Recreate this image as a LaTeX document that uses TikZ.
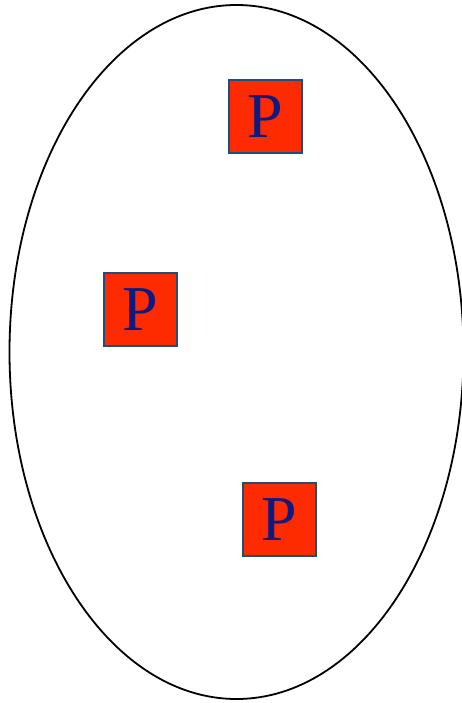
\documentclass[tikz,border=0pt]{standalone}
\usepackage{fontspec}
\usetikzlibrary{shapes.geometric}
\setmainfont{Liberation Serif}
\definecolor{boxred}{HTML}{FF2B00}
\definecolor{boxedge}{HTML}{1F4E79}
\definecolor{pnavy}{HTML}{0E1A80}
\tikzset{pbox/.style={draw=boxedge, line width=2pt, fill=boxred, minimum size=73pt, inner sep=0pt, text=pnavy, font=\fontsize{64}{64}\selectfont}}
\begin{document}
\begin{tikzpicture}[x=1pt,y=-1pt]
\useasboundingbox (0,0) rectangle (462,703);
\begin{scope}
\clip (0,0) rectangle (462,703);
\node[draw, line width=1.8pt, ellipse, minimum width=454pt, minimum height=694pt, inner sep=0pt] (ell) at (236.5,352) {};
\end{scope}
\node[pbox] (p1) at (265.5,116.5) {\raisebox{0pt}[\height][0pt]{P}};
\node[pbox] (p2) at (140,309.5) {P};
\node[pbox] (p3) at (279.5,519.5) {P};
\end{tikzpicture}
\end{document}
